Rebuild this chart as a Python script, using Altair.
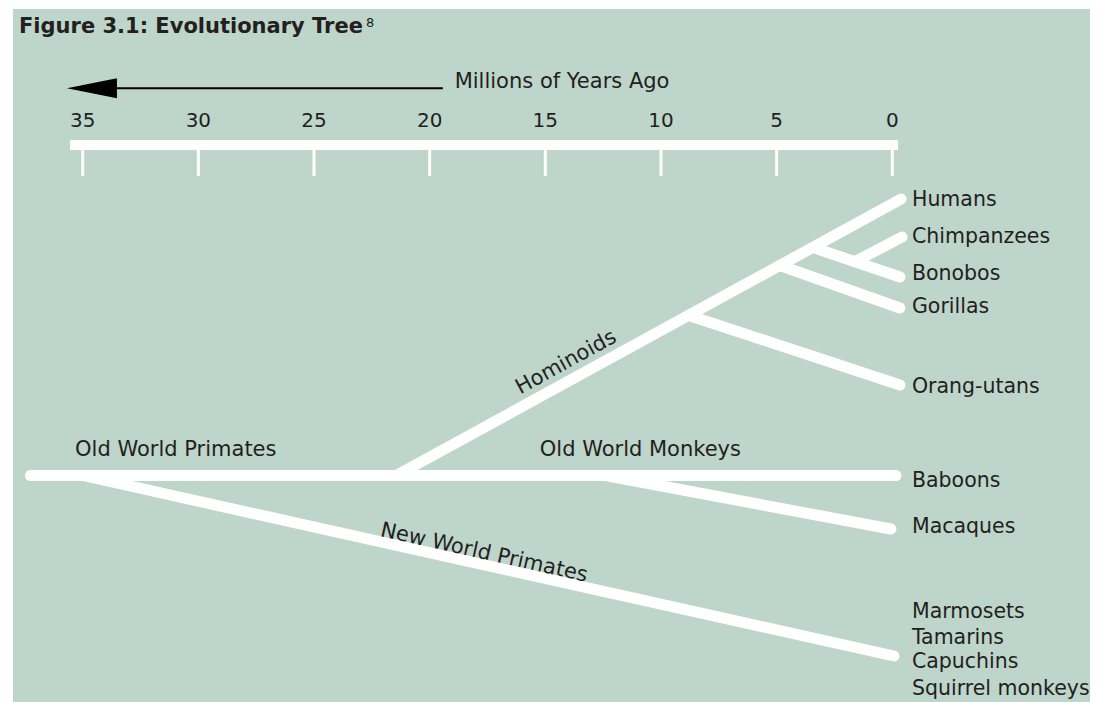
import altair as alt
import pandas as pd

# ---------------- data ----------------
title_text = "Figure 3.1: Evolutionary Tree"
title_note = "8"
axis_title = "Millions of Years Ago"

# time scale (millions of years ago)
tick_years = [35, 30, 25, 20, 15, 10, 5, 0]
tick_labels = ["35", "30", "25", "20", "15", "10", "5", "0"]
axis_bar_from = 35.55
axis_bar_to = -0.25
arrow_from = 19.43
arrow_to = 33.52
arrow_head = 34.6

# tree branches: start / end in (years ago, vertical lane units)
branch_names = ["Root", "New World Primates", "Macaques", "Hominoids",
                "Orang-utans", "Gorillas", "Bonobos", "Chimpanzees"]
branch_x1 = [37.26, 34.99, 12.40, 21.45, 8.79, 4.86, 3.44, 1.62]
branch_x2 = [-0.16, -0.07, 0.06, -0.38, -0.33, -0.33, -0.33, -0.42]
branch_y1 = [0.0, 0.0, 0.0, 0.0, 16.0, 21.0, 22.81, 21.38]
branch_y2 = [0.0, -18.05, -5.35, 27.65, 9.05, 16.75, 19.85, 23.85]

# species at the tips
species = ["Humans", "Chimpanzees", "Bonobos", "Gorillas", "Orang-utans",
           "Baboons", "Macaques", "Marmosets", "Tamarins", "Capuchins",
           "Squirrel monkeys"]
species_lane = [26.95, 23.25, 19.55, 16.25, 8.25, -1.15, -5.75,
                -14.25, -16.85, -19.25, -21.95]
species_year = -0.85

# clade names
clades_flat = ["Old World Primates", "Old World Monkeys"]
clades_flat_year = [35.33, 15.24]
clades_flat_lane = [1.95, 1.95]
clades_slanted = ["Hominoids", "New World Primates"]
clades_slanted_year = [14.1, 17.65]
clades_slanted_lane = [11.3, -7.75]
clades_slanted_angle = [331.2, 12.5]

# ---------------- styling ----------------
BG = "#bed5cb"
INK = "#231f20"
FONT = "DejaVu Sans"

xs = alt.Scale(domain=[35, 0], range=[69.7, 879.3], nice=False, zero=False)
ys = alt.Scale(domain=[0, 40], range=[466.5, 66.5], nice=False, zero=False)


def X(f):
    return alt.X(f, type="quantitative", scale=xs, axis=None)


def Y(f):
    return alt.Y(f, type="quantitative", scale=ys, axis=None)


branches = pd.DataFrame({"name": branch_names, "x1": branch_x1, "x2": branch_x2,
                         "y1": branch_y1, "y2": branch_y2})
ticks = pd.DataFrame({"year": tick_years, "label": tick_labels,
                      "top": [32.55] * len(tick_years), "bot": [29.95] * len(tick_years),
                      "lab": [34.85] * len(tick_years)})
bar = pd.DataFrame({"x1": [axis_bar_from], "x2": [axis_bar_to], "y": [33.05]})
arrow = pd.DataFrame({"x1": [arrow_from], "x2": [arrow_to], "y": [38.72], "xh": [arrow_head]})
axis_lab = pd.DataFrame({"t": [axis_title], "x": [18.92], "y": [38.75]})
sp = pd.DataFrame({"name": species, "y": species_lane, "x": [species_year] * len(species)})
cf = pd.DataFrame({"name": clades_flat, "x": clades_flat_year, "y": clades_flat_lane})
cs = pd.DataFrame({"name": clades_slanted, "x": clades_slanted_year,
                   "y": clades_slanted_lane, "a": clades_slanted_angle})

branch_layer = alt.Chart(branches).mark_rule(
    color="white", strokeWidth=11, strokeCap="round"
).encode(x=X("x1"), x2="x2", y=Y("y1"), y2="y2")

bar_layer = alt.Chart(bar).mark_rule(color="white", strokeWidth=10, strokeCap="butt").encode(
    x=X("x1"), x2="x2", y=Y("y"))

tick_layer = alt.Chart(ticks).mark_rule(color="white", strokeWidth=3).encode(
    x=X("year"), y=Y("top"), y2="bot")

tick_text = alt.Chart(ticks).mark_text(
    font=FONT, fontSize=20, color=INK, align="center", baseline="alphabetic"
).encode(x=X("year"), y=Y("lab"), text="label:N")

arrow_line = alt.Chart(arrow).mark_rule(color="black", strokeWidth=2).encode(
    x=X("x1"), x2="x2", y=Y("y"))

arrow_tip = alt.Chart(arrow).mark_point(
    shape="M -1 0 L 1 -0.4 L 1 0.4 Z", size=2500, filled=True,
    color="black", opacity=1, strokeWidth=0
).encode(x=X("xh"), y=Y("y"))

axis_text = alt.Chart(axis_lab).mark_text(
    font=FONT, fontSize=21, color=INK, align="left", baseline="alphabetic"
).encode(x=X("x"), y=Y("y"), text="t:N")

species_text = alt.Chart(sp).mark_text(
    font=FONT, fontSize=20.5, color=INK, align="left", baseline="alphabetic"
).encode(x=X("x"), y=Y("y"), text="name:N")

clade_flat_text = alt.Chart(cf).mark_text(
    font=FONT, fontSize=21, color=INK, align="left", baseline="alphabetic"
).encode(x=X("x"), y=Y("y"), text="name:N")

clade_slant_text = alt.Chart(cs).mark_text(
    font=FONT, fontSize=21, color=INK, align="center", baseline="middle"
).encode(x=X("x"), y=Y("y"), text="name:N", angle=alt.Angle("a:Q", scale=None))

title_layer = alt.Chart(pd.DataFrame({"t": [title_text]})).mark_text(
    font=FONT, fontSize=21, fontWeight="bold", color=INK, align="left", baseline="alphabetic"
).encode(x=alt.value(6), y=alt.value(24), text="t:N")

note_layer = alt.Chart(pd.DataFrame({"t": [title_note]})).mark_text(
    font=FONT, fontSize=13, color=INK, align="left", baseline="alphabetic"
).encode(x=alt.value(353), y=alt.value(18), text="t:N")

chart = alt.layer(
    bar_layer, tick_layer, tick_text, arrow_line, arrow_tip, axis_text,
    branch_layer, species_text, clade_flat_text, clade_slant_text,
    title_layer, note_layer
).properties(
    width=1077, height=693,
    autosize=alt.AutoSizeParams(type="none"),
    padding={"left": 5, "top": 1, "right": 0, "bottom": 0},
    background="white",
).configure_view(fill=BG, stroke=None)

chart.save("out.html", embed_options={"renderer": "svg", "actions": False})
